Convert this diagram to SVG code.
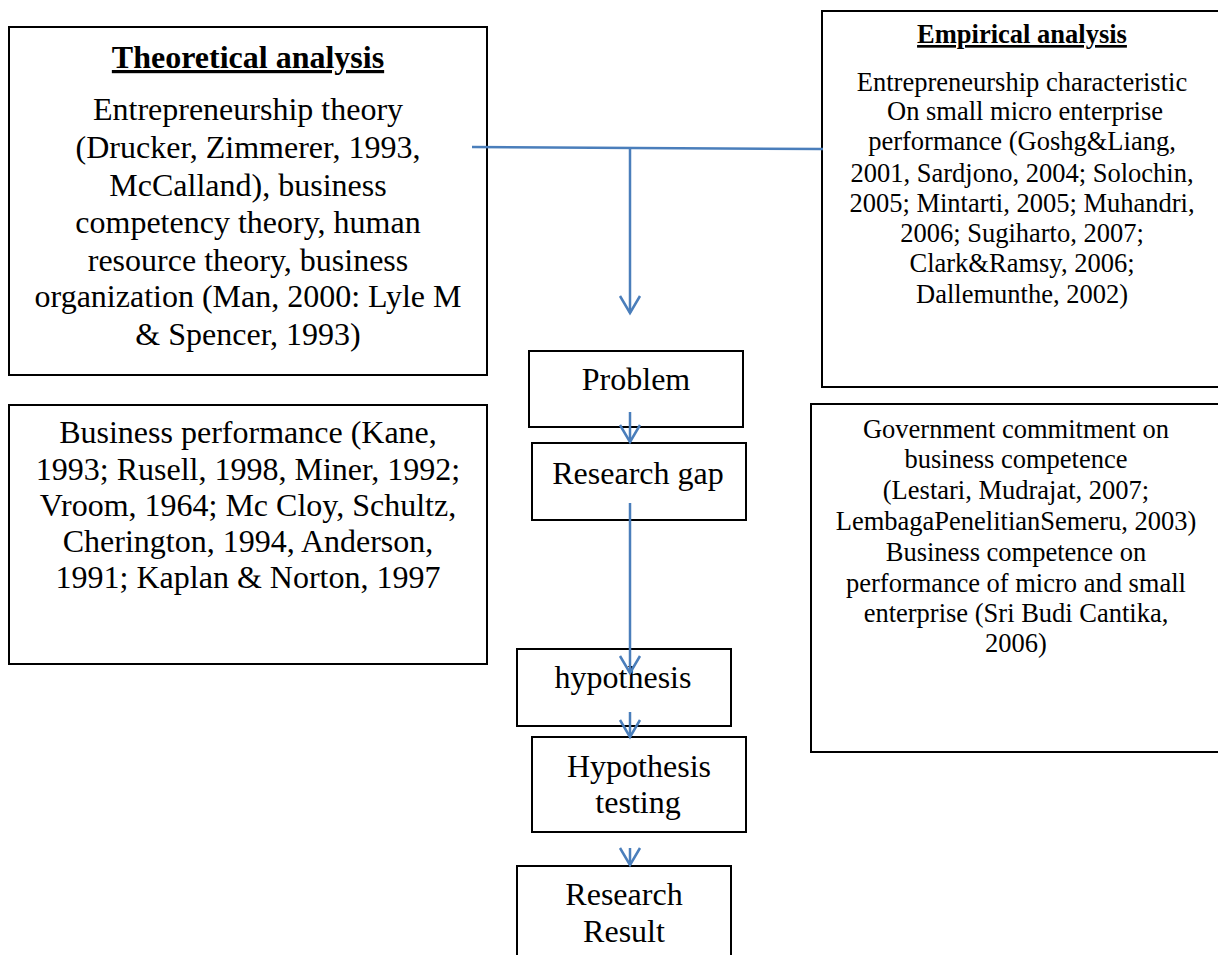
<svg xmlns="http://www.w3.org/2000/svg" width="1218" height="955" viewBox="0 0 1218 955">
<style>
.box{fill:#fff;stroke:#000;stroke-width:2}
.t{font-family:"Liberation Serif","Times New Roman",serif;fill:#000;text-anchor:middle}
.b32{font-size:32px}
.b26{font-size:26.5px}
.h{font-weight:bold;text-decoration:underline}
.c{fill:none;stroke:#4a7ebb;stroke-width:2.5}
</style>
<defs>
<marker id="v" markerUnits="userSpaceOnUse" markerWidth="40" markerHeight="40" viewBox="-20 -20 40 40" refX="0" refY="0" orient="auto">
<path d="M-17,-10 L0,0 L-17,10" fill="none" stroke="#4a7ebb" stroke-width="2.5"/>
</marker>
</defs>
<rect width="1218" height="955" fill="#fff"/>

<g id="theoretical">
<rect class="box" x="9" y="27" width="478" height="348"/>
<text class="t b32 h" x="248" y="68">Theoretical analysis</text>
<text class="t b32" x="248" y="120">Entrepreneurship theory</text>
<text class="t b32" x="248" y="158">(Drucker, Zimmerer, 1993,</text>
<text class="t b32" x="248" y="196">McCalland), business</text>
<text class="t b32" x="248" y="233">competency theory, human</text>
<text class="t b32" x="248" y="271">resource theory, business</text>
<text class="t b32" x="248" y="307">organization (Man, 2000: Lyle M</text>
<text class="t b32" x="248" y="345">&amp; Spencer, 1993)</text>
</g>

<g id="empirical">
<rect class="box" x="822" y="11" width="402" height="376"/>
<text class="t b26 h" x="1022" y="43">Empirical analysis</text>
<text class="t b26" x="1022" y="91">Entrepreneurship characteristic</text>
<text class="t b26" x="1025" y="120">On small micro enterprise</text>
<text class="t b26" x="1022" y="150">performance (Goshg&amp;Liang,</text>
<text class="t b26" x="1022" y="182">2001, Sardjono, 2004; Solochin,</text>
<text class="t b26" x="1022" y="212">2005; Mintarti, 2005; Muhandri,</text>
<text class="t b26" x="1022" y="242">2006; Sugiharto, 2007;</text>
<text class="t b26" x="1022" y="272">Clark&amp;Ramsy, 2006;</text>
<text class="t b26" x="1022" y="303">Dallemunthe, 2002)</text>
</g>

<g id="business-performance">
<rect class="box" x="9" y="405" width="478" height="259"/>
<text class="t b32" x="248" y="443">Business performance (Kane,</text>
<text class="t b32" x="248" y="480">1993; Rusell, 1998, Miner, 1992;</text>
<text class="t b32" x="248" y="516">Vroom, 1964; Mc Cloy, Schultz,</text>
<text class="t b32" x="248" y="552">Cherington, 1994, Anderson,</text>
<text class="t b32" x="248" y="588">1991; Kaplan &amp; Norton, 1997</text>
</g>

<g id="government">
<rect class="box" x="811" y="404" width="413" height="348"/>
<text class="t b26" x="1016" y="438">Government commitment on</text>
<text class="t b26" x="1016" y="468">business competence</text>
<text class="t b26" x="1016" y="499">(Lestari, Mudrajat, 2007;</text>
<text class="t b26" x="1016" y="530">LembagaPenelitianSemeru, 2003)</text>
<text class="t b26" x="1016" y="561">Business competence on</text>
<text class="t b26" x="1016" y="592">performance of micro and small</text>
<text class="t b26" x="1016" y="622">enterprise (Sri Budi Cantika,</text>
<text class="t b26" x="1016" y="652">2006)</text>
</g>

<g id="problem">
<rect class="box" x="529" y="351" width="214" height="76"/>
<text class="t b32" x="636" y="390">Problem</text>
</g>

<g id="research-gap">
<rect class="box" x="532" y="443" width="214" height="77"/>
<text class="t b32" x="638" y="484">Research gap</text>
</g>

<g id="hypothesis">
<rect class="box" x="517" y="649" width="214" height="77"/>
<text class="t b32" x="623" y="688">hypothesis</text>
</g>

<g id="hypothesis-testing">
<rect class="box" x="532" y="737" width="214" height="95"/>
<text class="t b32" x="639" y="777">Hypothesis</text>
<text class="t b32" x="638" y="813">testing</text>
</g>

<g id="research-result">
<rect class="box" x="517" y="866" width="214" height="100"/>
<text class="t b32" x="624" y="905">Research</text>
<text class="t b32" x="624" y="942">Result</text>
</g>

<g id="connectors">
<line class="c" x1="472" y1="147" x2="823" y2="149"/>
<line class="c" x1="630" y1="148" x2="630" y2="313" marker-end="url(#v)"/>
<line class="c" x1="630" y1="412" x2="630" y2="442" marker-end="url(#v)"/>
<line class="c" x1="630" y1="503" x2="630" y2="673" marker-end="url(#v)"/>
<line class="c" x1="630" y1="712" x2="630" y2="737" marker-end="url(#v)"/>
<line class="c" x1="630" y1="848" x2="630" y2="865" marker-end="url(#v)"/>
</g>
</svg>
